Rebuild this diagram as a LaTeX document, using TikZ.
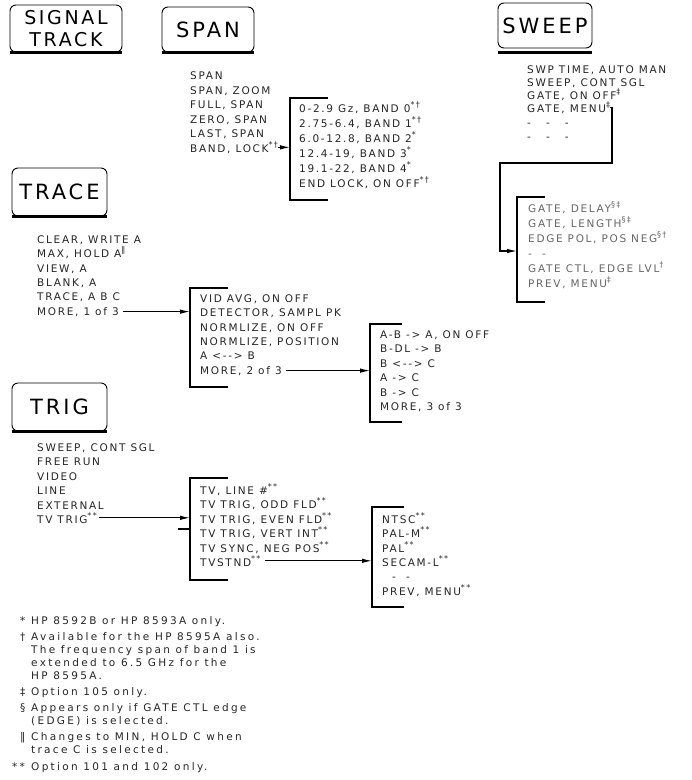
\documentclass[tikz,border=0pt]{standalone}
\usepackage{fontspec}
\setmainfont{DejaVu Sans}
\newfontfamily\hdrfont[LetterSpace=14]{DejaVu Sans}
\newfontfamily\lstfont[LetterSpace=16]{DejaVu Sans}
\newfontfamily\notefont[LetterSpace=22]{DejaVu Sans}
\usetikzlibrary{arrows.meta}
\tikzset{
  hdr/.style={draw, rounded corners=6pt, line width=0.9pt, inner sep=0pt,
    font=\hdrfont\fontsize{21}{24}\selectfont},
  shad/.style={line width=2.2pt},
  item/.style={anchor=base west, inner sep=0pt, text=black!85,
    font=\lstfont\fontsize{10.5}{12}\selectfont},
  gitem/.style={item, text=black!60},
  brk/.style={line width=1.5pt},
  arr/.style={line width=1.1pt, -{Latex[length=10pt,width=4.5pt]}},
  note/.style={anchor=base west, inner sep=0pt, text=black!85,
    font=\notefont\fontsize{10.5}{12}\selectfont},
}
\newcommand\supx[1]{\raisebox{0.8ex}{\fontsize{8}{9}\selectfont #1}}
\begin{document}
\begin{tikzpicture}[x=1pt,y=-1pt]
\useasboundingbox (0,0) rectangle (692,780);

% ---------- headers
\node[hdr, minimum width=112pt, minimum height=47pt, align=center,
  font=\hdrfont\fontsize{19}{22}\selectfont] (sig) at (66,28.5) {SIGNAL\\TRACK};
\draw[shad] (sig.south west) -- (sig.south east);
\node[hdr, minimum width=92pt, minimum height=45pt] (span) at (208,29.5) {SPAN};
\draw[shad] (span.south west) -- (span.south east);
\node[hdr, minimum width=94pt, minimum height=45pt] (sweep) at (545,25.5) {SWEEP};
\draw[shad] ([yshift=-4pt]sweep.south west) -- ([yshift=-4pt]sweep.south east);
\node[hdr, minimum width=95pt, minimum height=48pt] (trace) at (59.5,192) {TRACE};
\draw[shad] (trace.south west) -- (trace.south east);
\node[hdr, minimum width=95pt, minimum height=48pt] (trig) at (59.5,407) {TRIG};
\draw[shad] (trig.south west) -- (trig.south east);

% ---------- SPAN menu
\node[item] (sp1) at (190,79) {SPAN};
\node[item] (sp2) at (190,94) {SPAN, ZOOM};
\node[item] (sp3) at (190,108) {FULL, SPAN};
\node[item] (sp4) at (190,123) {ZERO, SPAN};
\node[item] (sp5) at (190,137) {LAST, SPAN};
\node[item] (sp6) at (190,152) {BAND, LOCK\supx{*\,†}};

\coordinate (bandT) at (290,98);
\coordinate (bandB) at (290,200);
\draw[brk] ([xshift=38pt]bandT) -- (bandT) -- (bandB) -- ([xshift=38pt]bandB);
\node[item] (bd1) at (299,112) {0-2.9 Gz, BAND 0\supx{*†}};
\node[item] (bd2) at (299,127) {2.75-6.4, BAND 1\supx{*†}};
\node[item] (bd3) at (299,142) {6.0-12.8, BAND 2\supx{*}};
\node[item] (bd4) at (299,157) {12.4-19, BAND 3\supx{*}};
\node[item] (bd5) at (299,172) {19.1-22, BAND 4\supx{*}};
\node[item] (bd6) at (299,187) {END LOCK, ON OFF\supx{*†}};
\draw[arr] (sp6.east) -- (sp6.east -| bandT);

% ---------- SWEEP menu
\node[item] (sw1) at (527,73) {SWP TIME, AUTO MAN};
\node[item] (sw2) at (527,86) {SWEEP, CONT SGL};
\node[item] (sw3) at (527,99) {GATE, ON OFF\supx{‡}};
\node[item] (sw4) at (527,112) {GATE, MENU\supx{‡}};
\node[item] (sw5) at (527,126) {-\ \ \ -\ \ \ -};
\node[item] (sw6) at (527,140) {-\ \ \ -\ \ \ -};

\coordinate (gR) at (612,163);
\coordinate (gL) at (500,163);
\coordinate (gateT) at (517,197);
\coordinate (gateB) at (517,302);
\coordinate (gateIn) at (517,251);
\draw[arr] (sw4.east) -- (sw4.east -| gR) -- (gR) -- (gL) -- (gL |- gateIn) -- (gateIn);
\draw[brk] ([xshift=28pt]gateT) -- (gateT) -- (gateB) -- ([xshift=28pt]gateB);
\node[gitem] (gt1) at (528,212) {GATE, DELAY\supx{§‡}};
\node[gitem] (gt2) at (528,227) {GATE, LENGTH\supx{§‡}};
\node[gitem] (gt3) at (528,242) {EDGE POL, POS NEG\supx{§†}};
\node[gitem] (gt4) at (528,257) {-\ \ -};
\node[gitem] (gt5) at (528,272) {GATE CTL, EDGE LVL\supx{†}};
\node[gitem] (gt6) at (528,287) {PREV, MENU\supx{‡}};

% ---------- TRACE menu
\node[item] (tr1) at (37,243) {CLEAR, WRITE A};
\node[item] (tr2) at (37,257) {MAX, HOLD A\supx{‖}};
\node[item] (tr3) at (37,272) {VIEW, A};
\node[item] (tr4) at (37,286) {BLANK, A};
\node[item] (tr5) at (37,300) {TRACE, A B C};
\node[item] (tr6) at (37,315) {MORE, 1 of 3};

\coordinate (vT) at (190,288);
\coordinate (vB) at (190,387);
\draw[brk] ([xshift=38pt]vT) -- (vT) -- (vB) -- ([xshift=38pt]vB);
\node[item] (va1) at (200,302) {VID AVG, ON OFF};
\node[item] (va2) at (200,316) {DETECTOR, SAMPL PK};
\node[item] (va3) at (200,331) {NORMLIZE, ON OFF};
\node[item] (va4) at (200,345) {NORMLIZE, POSITION};
\node[item] (va5) at (200,359) {A <-{}-> B};
\node[item] (va6) at (200,374) {MORE, 2 of 3};
\draw[arr] ([xshift=4pt]tr6.east) -- (tr6.east -| vT);

\coordinate (aT) at (370,324);
\coordinate (aB) at (370,422);
\draw[brk] ([xshift=32pt]aT) -- (aT) -- (aB) -- ([xshift=32pt]aB);
\node[item] (ab1) at (380,338) {A-B -> A, ON OFF};
\node[item] (ab2) at (380,352) {B-DL -> B};
\node[item] (ab3) at (380,367) {B <-{}-> C};
\node[item] (ab4) at (380,381) {A -> C};
\node[item] (ab5) at (380,396) {B -> C};
\node[item] (ab6) at (380,410) {MORE, 3 of 3};
\draw[arr] ([xshift=4pt]va6.east) -- (va6.east -| aT);

% ---------- TRIG menu
\node[item] (tg1) at (37,451) {SWEEP, CONT SGL};
\node[item] (tg2) at (37,465) {FREE RUN};
\node[item] (tg3) at (37,480) {VIDEO};
\node[item] (tg4) at (37,494) {LINE};
\node[item] (tg5) at (37,509) {EXTERNAL};
\node[item] (tg6) at (37,523) {TV TRIG\supx{**}};

\coordinate (tvT) at (190,478);
\coordinate (tvB) at (190,580);
\draw[brk] ([xshift=38pt]tvT) -- (tvT) -- (tvB) -- ([xshift=38pt]tvB);
\draw[line width=2.4pt] ([xshift=-12pt,yshift=-11pt]tvT |- tg6.east) -- ([yshift=-11pt]tvT |- tg6.east);
\node[item] (tv1) at (200,494) {TV, LINE \#\supx{**}};
\node[item] (tv2) at (200,508) {TV TRIG, ODD FLD\supx{**}};
\node[item] (tv3) at (200,523) {TV TRIG, EVEN FLD\supx{**}};
\node[item] (tv4) at (200,537) {TV TRIG, VERT INT\supx{**}};
\node[item] (tv5) at (200,552) {TV SYNC, NEG POS\supx{**}};
\node[item] (tv6) at (200,566) {TVSTND\supx{**}};
\draw[arr] ([xshift=2pt]tg6.east) -- (tg6.east -| tvT);

\coordinate (nT) at (372,507);
\coordinate (nB) at (372,607);
\draw[brk] ([xshift=32pt]nT) -- (nT) -- (nB) -- ([xshift=32pt]nB);
\node[item] (nt1) at (382,523) {NTSC\supx{**}};
\node[item] (nt2) at (382,537) {PAL-M\supx{**}};
\node[item] (nt3) at (382,552) {PAL\supx{**}};
\node[item] (nt4) at (382,566) {SECAM-L\supx{**}};
\node[item] (nt5) at (392,580) {-\ \ -};
\node[item] (nt6) at (382,595) {PREV, MENU\supx{**}};
\draw[arr] ([xshift=4pt]tv6.east) -- (tv6.east -| nT);

% ---------- footnotes
\node[note] (f1s) at (20,624) {*};
\node[note] (f1) at (31,624) {HP 8592B or HP 8593A only.};
\node[note] (f2s) at (20,640) {†};
\node[note] (f2) at (31,640) {Available for the HP 8595A also.};
\node[note] (f3) at (31,653) {The frequency span of band 1 is};
\node[note] (f4) at (31,666) {extended to 6.5 GHz for the};
\node[note] (f5) at (31,679) {HP 8595A.};
\node[note] (f6s) at (20,695) {‡};
\node[note] (f6) at (31,695) {Option 105 only.};
\node[note] (f7s) at (20,711) {§};
\node[note] (f7) at (31,711) {Appears only if GATE CTL edge};
\node[note] (f8) at (31,724) {(EDGE) is selected.};
\node[note] (f9s) at (20,740) {‖};
\node[note] (f9) at (31,740) {Changes to MIN, HOLD C when};
\node[note] (f10) at (31,753) {trace C is selected.};
\node[note] (f11s) at (12,770) {**};
\node[note] (f11) at (31,770) {Option 101 and 102 only.};
\end{tikzpicture}
\end{document}
